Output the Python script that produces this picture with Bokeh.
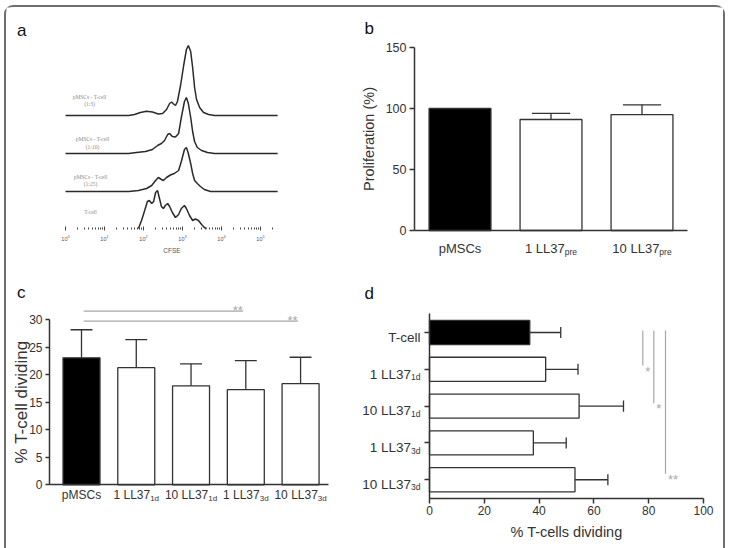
from bokeh.plotting import figure
from bokeh.models import Range1d, FixedTicker
from bokeh.layouts import row, column
from bokeh.embed import file_html
from bokeh.resources import INLINE
from bokeh.core.properties import value

# ---------------- data ----------------
# (a) CFSE histograms: log10(CFSE) positions and relative counts
a_text = [["pMSCs - T-cell", "(1:3)"], ["pMSCs - T-cell", "(1:10)"],
          ["pMSCs - T-cell", "(1:25)"], ["T-cell"]]
a_offset = [113, 75, 37, 0]
a13_log = [0.00, 1.62, 1.77, 1.92, 2.08, 2.23, 2.38, 2.49, 2.59, 2.67, 2.72, 2.77, 2.82, 2.87,
           2.95, 3.03, 3.10, 3.15, 3.21, 3.26, 3.31, 3.36, 3.44, 3.54, 3.67, 3.82, 5.44]
a13_cnt = [0, 0, 1, 3, 4.3, 3.5, 1.5, 2, 6, 12, 13.5, 11.5, 10, 14,
           30, 50, 66, 70, 64, 48, 28, 16, 8, 3, 1, 0, 0]
a110_log = [0.00, 1.62, 1.82, 2.05, 2.23, 2.36, 2.46, 2.54, 2.62, 2.67, 2.74, 2.82, 2.90,
            2.97, 3.05, 3.10, 3.15, 3.21, 3.26, 3.31, 3.38, 3.49, 3.64, 3.82, 5.44]
a110_cnt = [0, 0, 1, 2, 4, 8, 10, 13, 19, 20, 17, 16.5, 20,
            36, 52, 56, 50, 36, 22, 12, 6, 3, 1, 0, 0]
a125_log = [0.00, 1.62, 1.87, 2.08, 2.21, 2.31, 2.38, 2.46, 2.51, 2.59, 2.69, 2.79, 2.90,
            2.97, 3.05, 3.10, 3.15, 3.21, 3.26, 3.31, 3.38, 3.46, 3.56, 3.72, 5.44]
a125_cnt = [0, 0, 1, 3, 6, 11, 14, 12, 11, 14, 16.5, 18, 21,
            30, 42, 44, 38, 28, 18, 11, 8, 5, 2, 0, 0]
atc_log = [1.87, 1.95, 2.03, 2.10, 2.15, 2.21, 2.26, 2.31, 2.36, 2.41, 2.46, 2.51, 2.56, 2.62,
           2.67, 2.74, 2.82, 2.90, 2.97, 3.05, 3.10, 3.18, 3.26, 3.33, 3.41, 3.49, 3.56, 3.62]
atc_cnt = [0, 8, 18, 27, 28, 25, 27, 36, 38, 30, 22, 20, 23, 25,
           22, 16, 11, 14, 20, 23, 20, 13, 8, 9.5, 8, 4, 1, 0]
a_x_label = "CFSE"

# (b)
b_main = ["pMSCs", "1 LL37", "10 LL37"]
b_sub = ["", "pre", "pre"]
b_mean = [100, 91, 95]
b_err = [0, 5, 8]
b_yticks = [0, 50, 100, 150]
b_ylabel = "Proliferation (%)"

# (c)
c_main = ["pMSCs", "1 LL37", "10 LL37", "1 LL37", "10 LL37"]
c_sub = ["", "1d", "1d", "3d", "3d"]
c_mean = [23.1, 21.3, 18.0, 17.3, 18.4]
c_err = [5.1, 5.1, 4.0, 5.3, 4.8]
c_yticks = [0, 5, 10, 15, 20, 25, 30]
c_ylabel = "% T-cell dividing"
c_sig_from = [0, 0]
c_sig_to = [3, 4]
c_sig_txt = ["**", "**"]

# (d)
d_main = ["T-cell", "1 LL37", "10 LL37", "1 LL37", "10 LL37"]
d_sub = ["", "1d", "1d", "3d", "3d"]
d_mean = [36.6, 42.4, 54.6, 37.9, 53.1]
d_err = [11.3, 11.8, 16.2, 12.0, 12.0]
d_xticks = [0, 20, 40, 60, 80, 100]
d_xlabel = "% T-cells dividing"
d_sig_to = [1, 2, 4]
d_sig_txt = ["*", "*", "**"]

# ---------------- style ----------------
FONT = "Liberation Sans"
AX = "#333333"
TXT = "#333333"
SIG = "#a8a8a8"
CW = {' ': .278, 'L': .556, 'p': .556, 'r': .333, 'e': .556, 'd': .556, 'M': .833,
      'S': .667, 'C': .722, 's': .5, 'T': .611, '-': .333, 'c': .5, 'l': .222}


def tw(s, size):
    return sum(CW.get(ch, 0.556) for ch in s) * size


def make_fig(w, h, xr, yr, **kw):
    p = figure(width=w, height=h, x_range=xr, y_range=yr, min_border=0,
               output_backend="svg", toolbar_location=None, title=None, **kw)
    p.min_border_left = 0
    p.min_border_right = 0
    p.min_border_top = 0
    p.min_border_bottom = 0
    p.grid.visible = False
    p.outline_line_color = None
    p.background_fill_color = "white"
    p.border_fill_color = "white"
    return p


def style_axis(ax, tick_out=5, label_size="12px", title_size="14.5px"):
    ax.axis_line_color = AX
    ax.axis_line_width = 1.5
    ax.major_tick_line_color = AX
    ax.major_tick_line_width = 1.5
    ax.major_tick_in = 0
    ax.major_tick_out = tick_out
    ax.minor_tick_line_color = None
    ax.major_label_text_font = FONT
    ax.major_label_text_font_size = label_size
    ax.major_label_text_color = TXT
    ax.major_label_standoff = 3
    ax.axis_label_text_font = FONT
    ax.axis_label_text_font_style = "normal"
    ax.axis_label_text_font_size = title_size
    ax.axis_label_text_color = TXT


def lab(p, x, y, text, size, align="left", color=TXT, font=FONT):
    p.text(x=[x], y=[y], text=[text], text_font=value(font), text_font_size=value(f"{size}px"),
           text_color=color, text_align=align, text_baseline="alphabetic",
           text_font_style="normal")


# page-pixel layout of the four panels (inside the rounded frame)
# a: x 6..360, y 7..265 | b: x 360..723, y 7..265
# c: x 6..360, y 265..548 | d: x 360..723, y 265..548

# ---------------- panel a ----------------
def a_pt(px, py):
    return 10 ** ((px - 65) / 39), 228 - py


pa = make_fig(354, 258, Range1d(a_pt(6, 0)[0], a_pt(360, 0)[0]),
              Range1d(a_pt(0, 265)[1], a_pt(0, 7)[1]), x_axis_type="log")
pa.yaxis.visible = False
xa = pa.xaxis[0]
xa.fixed_location = 0
xa.bounds = (10 ** -0.01, 10 ** 5.46)
xa.axis_line_color = None
xa.major_tick_line_color = "#444444"
xa.minor_tick_line_color = "#444444"
xa.major_tick_in = 2
xa.major_tick_out = 2
xa.minor_tick_in = 1
xa.minor_tick_out = 1
xa.major_label_text_font = FONT
xa.major_label_text_font_size = "5.5px"
xa.major_label_text_color = "#555555"
xa.major_label_standoff = 4
xa.axis_label = a_x_label
xa.axis_label_text_font = FONT
xa.axis_label_text_font_style = "normal"
xa.axis_label_text_font_size = "6.5px"
xa.axis_label_text_color = "#555555"
xa.axis_label_standoff = 3

for logs, cnts, off in zip([a13_log, a110_log, a125_log, atc_log],
                           [a13_cnt, a110_cnt, a125_cnt, atc_cnt], a_offset):
    pa.line([10 ** v for v in logs], [off + c for c in cnts],
            line_color="#2a2a2a", line_width=1.5)

a_lab_pos = [(89, 96.3), (92, 138.7), (90, 176), (90, 211.3)]
for lines, (cx, by) in zip(a_text, a_lab_pos):
    for k, t in enumerate(lines):
        x, y = a_pt(cx, by + 7.5 * k)
        lab(pa, x, y, t, 5.5, align="center", color="#8a8a8a", font="Liberation Serif")

x, y = a_pt(16.5, 29.5)
lab(pa, x, y, "a", 17, color="#111111")

# ---------------- panel b ----------------
def b_pt(px, py):
    return (px - 459.5) / 91, (230 - py) / 1.22


pb = make_fig(363, 258, Range1d(b_pt(360, 0)[0], b_pt(723, 0)[0]),
              Range1d(b_pt(0, 265)[1], b_pt(0, 7)[1]))
yb = pb.yaxis[0]
style_axis(yb, tick_out=5, label_size="12.5px")
yb.ticker = FixedTicker(ticks=b_yticks)
yb.fixed_location = -0.5
yb.bounds = (0, 150)
yb.axis_label = b_ylabel
yb.axis_label_standoff = 6
xb = pb.xaxis[0]
style_axis(xb)
xb.ticker = FixedTicker(ticks=[])
xb.fixed_location = 0
xb.bounds = (-0.5, 2.5)

bx = list(range(len(b_mean)))
pb.vbar(x=bx, top=b_mean, width=0.68, bottom=0,
        fill_color=["black"] + ["white"] * (len(bx) - 1), line_color=AX, line_width=1.3)
ex = [i for i in bx if b_err[i] > 0]
pb.segment(ex, [b_mean[i] for i in ex], ex,
           [b_mean[i] + b_err[i] for i in ex], line_color=AX, line_width=1.3)
pb.segment([i - 0.21 for i in ex], [b_mean[i] + b_err[i] for i in ex],
           [i + 0.21 for i in ex], [b_mean[i] + b_err[i] for i in ex],
           line_color=AX, line_width=1.3)

for i, (m, s) in enumerate(zip(b_main, b_sub)):
    total = tw(m, 13) + tw(s, 8.5)
    left = -total / 2
    _, ym = b_pt(0, 248)
    _, ys = b_pt(0, 251.5)
    lab(pb, i + left / 91, ym, m, 13)
    if s:
        lab(pb, i + (left + tw(m, 13)) / 91, ys, s, 8.5)

x, y = b_pt(364, 28.3)
lab(pb, x, y, "b", 17, color="#111111")

# ---------------- panel c ----------------
def c_pt(px, py):
    return (px - 81) / 54.77, (484.33 - py) / 5.5


pc = make_fig(354, 283, Range1d(c_pt(6, 0)[0], c_pt(360, 0)[0]),
              Range1d(c_pt(0, 548)[1], c_pt(0, 265)[1]))
yc = pc.yaxis[0]
style_axis(yc, tick_out=4, label_size="12px", title_size="17px")
yc.ticker = FixedTicker(ticks=c_yticks)
yc.fixed_location = c_pt(49, 0)[0]
yc.bounds = (0, 30)
yc.axis_label = c_ylabel
yc.axis_label_standoff = -5
xc = pc.xaxis[0]
style_axis(xc)
xc.ticker = FixedTicker(ticks=[])
xc.fixed_location = 0
xc.bounds = (c_pt(49, 0)[0], c_pt(328, 0)[0])

cx = list(range(len(c_mean)))
c_top = [m + e for m, e in zip(c_mean, c_err)]
pc.vbar(x=cx, top=c_mean, width=0.675, bottom=0,
        fill_color=["black"] + ["white"] * (len(cx) - 1), line_color=AX, line_width=1.3)
pc.segment(cx, c_mean, cx, c_top, line_color=AX, line_width=1.3)
pc.segment([i - 0.2 for i in cx], c_top, [i + 0.2 for i in cx], c_top,
           line_color=AX, line_width=1.3)

for i, (m, s) in enumerate(zip(c_main, c_sub)):
    total = tw(m, 12) + tw(s, 8)
    left = -total / 2
    _, ym = c_pt(0, 494.5)
    _, ys = c_pt(0, 497.5)
    lab(pc, i + left / 54.77, ym, m, 12)
    if s:
        lab(pc, i + (left + tw(m, 12)) / 54.77, ys, s, 8)

c_sig_y_px = [310.7, 320.7]
for f, t, txt, py in zip(c_sig_from, c_sig_to, c_sig_txt, c_sig_y_px):
    _, yy = c_pt(0, py)
    pc.segment([f + 0.04], [yy], [t - 0.05], [yy], line_color=SIG, line_width=1.2)
    _, ysb = c_pt(0, py - 0.5)
    lab(pc, t - 0.055, ysb, txt, 13, align="right", color=SIG)

x, y = c_pt(16.5, 291.7)
lab(pc, x, y, "c", 17, color="#111111")

# ---------------- panel d ----------------
def d_pt(px, py):
    return (px - 429) / 2.74, (py - 332) / 36.81


pd_ = make_fig(363, 283, Range1d(d_pt(360, 0)[0], d_pt(723, 0)[0]),
               Range1d(d_pt(0, 548)[1], d_pt(0, 265)[1]))
xd = pd_.xaxis[0]
style_axis(xd, tick_out=5, label_size="12px")
xd.ticker = FixedTicker(ticks=d_xticks)
xd.fixed_location = d_pt(0, 497.7)[1]
xd.bounds = (0, 100)
xd.axis_label = d_xlabel
xd.axis_label_standoff = 5
yd = pd_.yaxis[0]
style_axis(yd, tick_out=5)
dy = list(range(len(d_mean)))
yd.ticker = FixedTicker(ticks=dy)
yd.major_label_overrides = {i: "" for i in dy}
yd.fixed_location = 0
yd.bounds = (d_pt(0, 313.3)[1], d_pt(0, 497.7)[1])

d_end = [m + e for m, e in zip(d_mean, d_err)]
pd_.hbar(y=dy, right=d_mean, left=0, height=0.654,
         fill_color=["black"] + ["white"] * (len(dy) - 1), line_color=AX, line_width=1.3)
pd_.segment(d_mean, dy, d_end, dy, line_color=AX, line_width=1.3)
pd_.segment(d_end, [i - 0.15 for i in dy], d_end, [i + 0.15 for i in dy],
            line_color=AX, line_width=1.3)

for i, (m, s) in enumerate(zip(d_main, d_sub)):
    xr, _ = d_pt(420, 0)
    ws = tw(s, 8.5)
    lab(pd_, xr - ws / 2.74, i + 4.7 / 36.81, m, 13.5, align="right")
    if s:
        lab(pd_, xr, i + 7.7 / 36.81, s, 8.5, align="right")

d_sig_x_px = [642.3, 653.3, 665.0]
d_sig_end_px = [365.0, 402.7, 473.3]
for t, txt, sx, ey in zip(d_sig_to, d_sig_txt, d_sig_x_px, d_sig_end_px):
    x0, y0 = d_pt(sx, 330)
    _, y1 = d_pt(sx, ey)
    pd_.segment([x0], [y0], [x0], [y1], line_color=SIG, line_width=1.2)
    xs, ys = d_pt(sx + 2.5, ey + 5.5)
    lab(pd_, xs, ys, txt, 13, align="left", color=SIG)

x, y = d_pt(364, 292.7)
lab(pd_, x, y, "d", 17, color="#111111")

layout = column(row(pa, pb), row(pc, pd_),
                styles={"margin-left": "4px", "margin-top": "5px",
                        "border": "2px solid #6e6e6e", "border-bottom": "none",
                        "border-radius": "9px 9px 0 0"})

open("out.html", "w").write(file_html(layout, INLINE))
